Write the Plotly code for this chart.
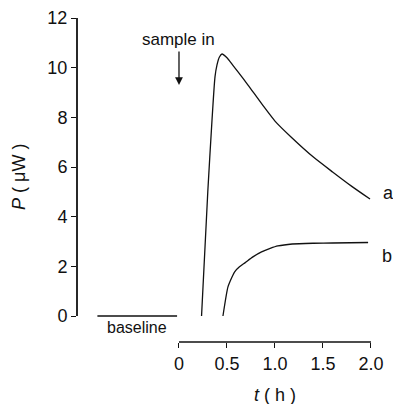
import plotly.graph_objects as go

# Data
baseline_t = [-0.85, -0.02]
baseline_P = [0.0, 0.0]

a_t = [0.235, 0.30, 0.344, 0.375, 0.396, 0.42, 0.448, 0.50, 0.56, 0.615, 0.719, 0.87, 1.0, 1.17, 1.40, 1.60, 1.80, 1.99]
a_P = [0.0, 5.0, 7.89, 9.63, 10.11, 10.42, 10.55, 10.40, 10.10, 9.83, 9.30, 8.50, 7.85, 7.20, 6.40, 5.80, 5.22, 4.71]

b_t = [0.458, 0.51, 0.55, 0.58, 0.63, 0.69, 0.77, 0.86, 0.95, 1.03, 1.18, 1.40, 1.60, 1.97]
b_P = [0.0, 1.17, 1.55, 1.78, 1.98, 2.15, 2.38, 2.58, 2.72, 2.82, 2.90, 2.93, 2.94, 2.96]

x_tickvals = [0, 0.5, 1.0, 1.5, 2.0]
x_ticktext = ["0", "0.5", "1.0", "1.5", "2.0"]
y_tickvals = [0, 2, 4, 6, 8, 10, 12]

FONT = "Liberation Sans, Arial, sans-serif"
INK = "#111111"

fig = go.Figure()
fig.add_trace(go.Scatter(x=baseline_t, y=baseline_P, mode="lines", line=dict(color=INK, width=1.3), hoverinfo="skip"))
fig.add_trace(go.Scatter(x=a_t, y=a_P, mode="lines", line=dict(color=INK, width=1.3, shape="spline", smoothing=0.6), hoverinfo="skip"))
fig.add_trace(go.Scatter(x=b_t, y=b_P, mode="lines", line=dict(color=INK, width=1.3, shape="spline", smoothing=0.6), hoverinfo="skip"))

fig.update_layout(
    width=393, height=404,
    margin=dict(l=77, r=13, t=18, b=62, autoexpand=False),
    paper_bgcolor="white", plot_bgcolor="white",
    showlegend=False,
    font=dict(family=FONT, color=INK, size=18),
    xaxis=dict(range=[-1.0625, 2.094], tickvals=x_tickvals, ticktext=x_ticktext,
               ticks="outside", ticklen=5, tickwidth=1.3, tickcolor=INK,
               showline=False, showgrid=False, zeroline=False, automargin=False,
               tickfont=dict(family=FONT, size=18, color=INK)),
    yaxis=dict(range=[-1.047, 12], tickvals=y_tickvals,
               ticks="outside", ticklen=5, tickwidth=1.3, tickcolor=INK,
               showline=False, showgrid=False, zeroline=False, automargin=False,
               tickfont=dict(family=FONT, size=18, color=INK)),
)

# partial axis lines
fig.add_shape(type="line", xref="x", yref="paper", x0=0, x1=2.0, y0=0, y1=0,
              line=dict(color=INK, width=1.6))
fig.add_shape(type="line", xref="paper", yref="y", x0=0, x1=0, y0=0, y1=12,
              line=dict(color=INK, width=1.8))

# axis titles
fig.add_annotation(text="<i>t</i> ( h )", xref="x", yref="paper", x=1.0, y=0,
                   yanchor="middle", xanchor="center",
                   yshift=-53, showarrow=False, font=dict(size=18, family=FONT))
fig.add_annotation(text="<i>P</i> ( μW )", xref="paper", yref="y", x=0, y=5.6,
                   xanchor="center", yanchor="middle",
                   xshift=-58, textangle=-90, showarrow=False, font=dict(size=18, family=FONT))

# labels
fig.add_annotation(text="sample in", x=0, y=11.12, showarrow=False, font=dict(size=17, family=FONT))
fig.add_annotation(text="", x=0, y=9.30, ax=0, ay=10.71, axref="x", ayref="y",
                   showarrow=True, arrowhead=2, arrowsize=1.2, arrowwidth=1.3, arrowcolor=INK)
fig.add_annotation(text="baseline", x=-0.44, y=-0.48, showarrow=False, font=dict(size=16, family=FONT))
fig.add_annotation(text="a", xref="paper", x=1.0, xshift=8, y=4.95, showarrow=False,
                   xanchor="center", yanchor="middle", font=dict(size=18, family=FONT))
fig.add_annotation(text="b", xref="paper", x=1.0, xshift=7, y=2.40, showarrow=False,
                   xanchor="center", yanchor="middle", font=dict(size=18, family=FONT))

fig.write_html(
    "out.html",
    config={"displayModeBar": False},
    post_script="document.documentElement.style.margin='0';document.body.style.margin='0';"
                "document.documentElement.style.overflow='hidden';document.body.style.overflow='hidden';",
)
